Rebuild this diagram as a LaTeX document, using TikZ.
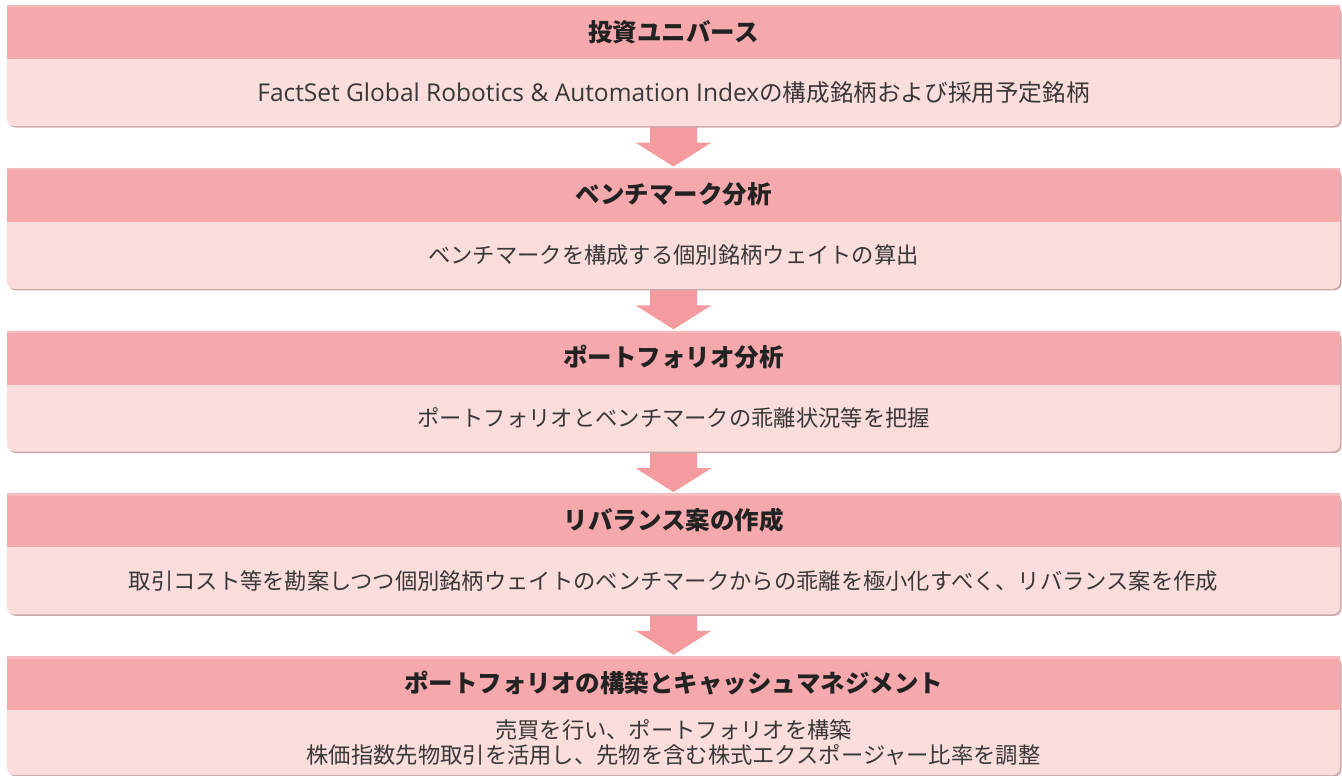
\documentclass[tikz,border=0pt]{standalone}
\usepackage{fontspec}
\setmainfont{Noto Sans CJK JP}
\newfontfamily\latinfont{Open Sans}
\usetikzlibrary{calc,shadows,backgrounds}
\definecolor{headc}{HTML}{F6A9AC}
\definecolor{headtop}{HTML}{F8BBBD}
\definecolor{bodyc}{HTML}{FBDDDC}
\definecolor{arrc}{HTML}{F59BA0}
\definecolor{shadc}{HTML}{C9A9AA}
\definecolor{txt}{HTML}{383838}
\definecolor{htxt}{HTML}{222222}
\begin{document}
\begin{tikzpicture}[x=1pt,y=-1pt,
  box/.style={rectangle, rounded corners=7pt, fill=bodyc, minimum width=1333pt, inner sep=0pt, draw=none,
    drop shadow={shadow xshift=1.5pt, shadow yshift=-1.5pt, fill=shadc, opacity=1}},
  head/.style={rectangle, fill=headc, minimum width=1333pt, minimum height=54pt, inner sep=0pt,
    font=\fontsize{24.5}{28}\selectfont\bfseries, text=htxt, anchor=north,
    path picture={\fill[headtop] (path picture bounding box.north west) rectangle ([yshift=-2.5pt]path picture bounding box.north east);}},
  btext/.style={font=\fontsize{22.3}{24.5}\selectfont, text=txt, align=center, inner sep=0pt},
  arr/.style={fill=arrc}]
\useasboundingbox (0,0) rectangle (1342,776);

\node[box, minimum height=121pt] (b1) at (673.5,65.5) {};
\node[head] (h1) at (b1.north) {投資ユニバース};
\node[btext] (t1) at ($(h1.south)!0.5!(b1.south)$) {{\latinfont\fontsize{24.5}{24.5}\selectfont FactSet Global Robotics \& Automation Index}{\fontsize{23.6}{24.5}\selectfont の構成銘柄および採用予定銘柄}};

\node[box, minimum height=121pt] (b2) at (673.5,228.25) {};
\node[head] (h2) at (b2.north) {ベンチマーク分析};
\node[btext] (t2) at ($(h2.south)!0.5!(b2.south)$) {ベンチマークを構成する個別銘柄ウェイトの算出};

\node[box, minimum height=121pt] (b3) at (673.5,391) {};
\node[head] (h3) at (b3.north) {ポートフォリオ分析};
\node[btext] (t3) at ($(h3.south)!0.5!(b3.south)$) {ポートフォリオとベンチマークの乖離状況等を把握};

\node[box, minimum height=121pt] (b4) at (673.5,553.75) {};
\node[head] (h4) at (b4.north) {リバランス案の作成};
\node[btext] (t4) at ($(h4.south)!0.5!(b4.south)$) {取引コスト等を勘案しつつ個別銘柄ウェイトのベンチマークからの乖離を極小化すべく、リバランス案を作成};

\node[box, minimum height=119pt] (b5) at (673.5,715.5) {};
\node[head] (h5) at (b5.north) {ポートフォリオの構築とキャッシュマネジメント};
\node[btext] (t5) at ($(h5.south)!0.5!(b5.south)$) {売買を行い、ポートフォリオを構築\\株価指数先物取引を活用し、先物を含む株式エクスポージャー比率を調整};

\begin{pgfonlayer}{background}
\foreach \i/\j in {1/2,2/3,3/4,4/5}{
  \fill[arr] ($(b\i.south)+(-23.5,0)$) -- ($(b\i.south)+(23.5,0)$) -- ($(h\j.north)+(23.5,-25)$)
    -- ($(h\j.north)+(38,-25)$) -- ($(h\j.north)+(0,-1)$) -- ($(h\j.north)+(-38,-25)$)
    -- ($(h\j.north)+(-23.5,-25)$) -- cycle;
}
\end{pgfonlayer}
\end{tikzpicture}
\end{document}
